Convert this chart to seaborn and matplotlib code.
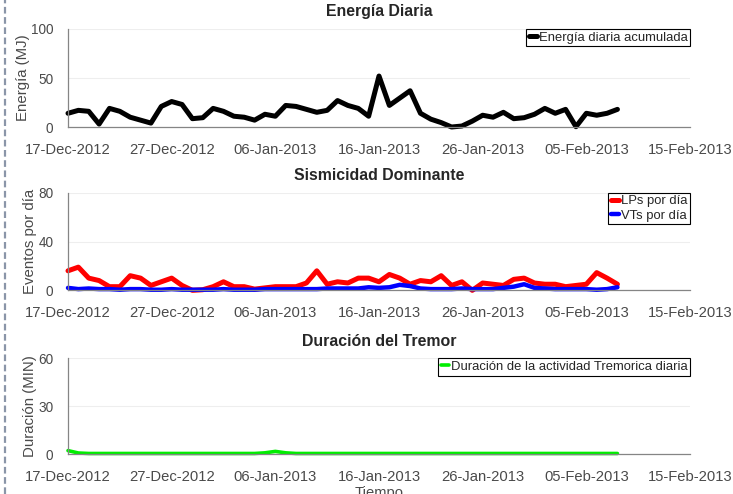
import matplotlib
matplotlib.use("Agg")
import matplotlib.pyplot as plt
import matplotlib.dates as mdates
from matplotlib.lines import Line2D
from matplotlib.ticker import MultipleLocator
import pandas as pd
import seaborn as sns

# daily values, 17-Dec-2012 .. 08-Feb-2013
fechas = pd.date_range("2012-12-17", "2013-02-08", freq="D")

energia = [14, 17, 16, 3, 19, 16, 10, 7, 4, 21, 26, 23, 8.5, 9.5, 19, 16, 11, 10,
           7, 13, 11, 22, 21, 18, 15, 17, 27, 22, 19, 11, 52, 22, 29.5, 37, 14, 8,
           4.5, 0, 1, 6, 12, 10, 15, 8.5, 9.5, 13, 19, 14, 18, 0.3, 14, 12, 14, 18]

lps = [16, 19, 10, 8, 3, 3, 12, 10, 4, 7, 10, 4, 0, 0.5, 3, 7, 3, 3,
       1, 2, 3, 3, 3, 6, 16, 5, 7, 6, 10, 10, 7, 13, 10, 5, 8, 7,
       12, 4, 7, 0, 6, 5, 4, 9, 10, 6, 5, 5, 3, 4, 5, 14.5, 10, 5]

vts = [2, 1, 1.5, 1, 1, 0.5, 1, 1, 0.5, 0.5, 1, 0.5, 0.5, 0.5, 0.5, 1, 0.5, 0.5,
       0.5, 1, 1, 1, 1, 1, 1, 1.5, 1.5, 1.5, 1.5, 2.5, 2, 2.5, 4.5, 3.5, 1.5, 1,
       1, 1, 1.5, 1, 1, 1, 2, 3, 5, 2, 1.5, 1, 1, 1, 1, 0.5, 1, 2.5]

tremor = [2.3, 0.8, 0.5, 0.5, 0.5, 0.5, 0.5, 0.5, 0.5, 0.5, 0.5, 0.5, 0.5, 0.5, 0.5, 0.5, 0.5, 0.5,
          0.5, 0.9, 1.8, 0.9, 0.5, 0.5, 0.5, 0.5, 0.5, 0.5, 0.5, 0.5, 0.5, 0.5, 0.5, 0.5, 0.5, 0.5,
          0.5, 0.5, 0.5, 0.5, 0.5, 0.5, 0.5, 0.5, 0.5, 0.5, 0.5, 0.5, 0.5, 0.5, 0.5, 0.5, 0.5, 0.5]

df = pd.DataFrame({"fecha": fechas, "energia": energia, "lps": lps, "vts": vts, "tremor": tremor})

titulos = ["Energía Diaria", "Sismicidad Dominante", "Duración del Tremor"]
ylabels = ["Energía (MJ)", "Eventos por día", "Duración (MIN)"]
ylims = [100, 80, 60]
ymajor = [50, 40, 30]

sns.set_style("white")
plt.rcParams["font.family"] = ["Liberation Sans", "DejaVu Sans"]

GREY = "#4a4a4a"
SPINE = "#858585"

fig = plt.figure(figsize=(7.33, 4.94), dpi=100)
left, width = 68 / 733, 622 / 733
boxes = [(0.7429, 0.1984), (0.4123, 0.1976), (0.0804, 0.1943)]
axes = [fig.add_axes([left, b, width, h]) for b, h in boxes]

sns.lineplot(data=df, x="fecha", y="energia", color="black", lw=3.6,
             label="Energía diaria acumulada", ax=axes[0], clip_on=False)
sns.lineplot(data=df, x="fecha", y="lps", color="#ff0000", lw=3.6,
             label="LPs por día", ax=axes[1], clip_on=False)
sns.lineplot(data=df, x="fecha", y="vts", color="#0000ff", lw=3.2,
             label="VTs por día", ax=axes[1], clip_on=False)
sns.lineplot(data=df, x="fecha", y="tremor", color="#00ee00", lw=2.6,
             label="Duración de la actividad Tremorica diaria", ax=axes[2], clip_on=False)

majors = pd.date_range("2012-12-17", "2013-02-15", freq="10D")
minors = pd.date_range("2012-12-17", "2013-02-15", freq="2D")

for i, ax in enumerate(axes):
    ax.set_xlim(pd.Timestamp("2012-12-17"), pd.Timestamp("2013-02-15"))
    ax.set_ylim(0, ylims[i])
    ax.set_xticks(majors)
    ax.set_xticks(minors, minor=True)
    ax.xaxis.set_major_formatter(mdates.DateFormatter("%d-%b-%Y"))
    ax.yaxis.set_major_locator(MultipleLocator(ymajor[i]))
    ax.yaxis.set_minor_locator(MultipleLocator(ymajor[i] / 2))
    ax.tick_params(axis="both", which="both", direction="out", color=SPINE,
                   labelcolor=GREY, width=0.9)
    ax.tick_params(axis="x", which="major", length=8.6, pad=3.0, labelsize=10.6)
    ax.tick_params(axis="x", which="minor", length=5)
    ax.tick_params(axis="y", which="major", length=6.5, pad=4, labelsize=9.8)
    ax.tick_params(axis="y", which="minor", length=4.3)
    ax.grid(axis="y", which="major", color="#eeeeee", lw=0.8)
    ax.set_axisbelow(True)
    for s in ["top", "right"]:
        ax.spines[s].set_visible(False)
    for s in ["left", "bottom"]:
        ax.spines[s].set_color(SPINE)
        ax.spines[s].set_linewidth(0.9)
    ax.set_title(titulos[i], fontsize=11.4, fontweight="bold", pad=9)
    ax.set_ylabel(ylabels[i], color=GREY, fontsize=10.8, labelpad=1)
    ax.set_xlabel("")
    ax.legend(loc="upper right", bbox_to_anchor=(1.0, 1.0), borderaxespad=0,
              fontsize=9.4, handlelength=0.6, handletextpad=0.15, borderpad=0.2,
              labelspacing=0.15, frameon=True, fancybox=False, framealpha=1,
              edgecolor="black")
    ax.get_legend().get_frame().set_linewidth(0.8)

axes[2].set_xlabel("Tiempo", color=GREY, fontsize=10.6, labelpad=1.5)

# dashed selection border on the left edge
fig.add_artist(Line2D([0.007, 0.007], [0, 1], transform=fig.transFigure,
                      color="#8a95a8", lw=1.6, ls=(0, (3, 1.6))))

fig.savefig("out.png", dpi=100)
